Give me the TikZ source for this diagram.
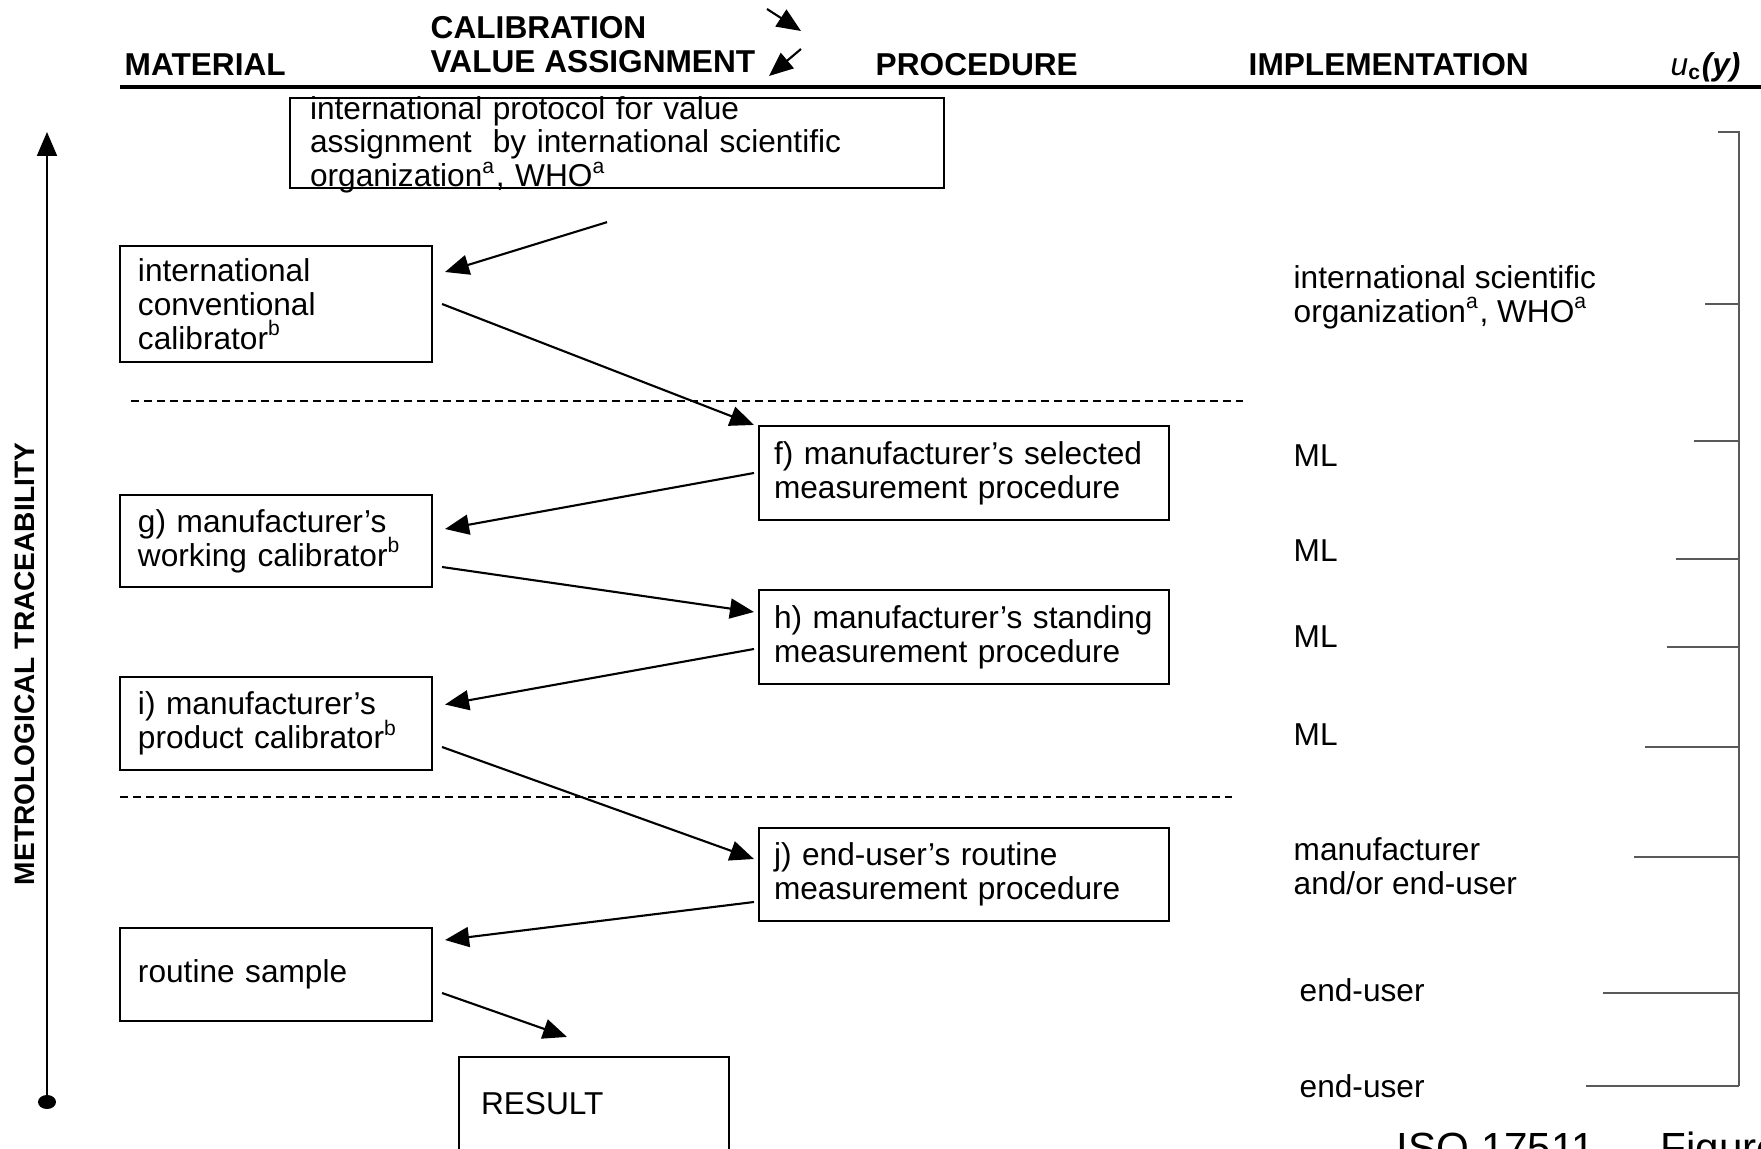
\documentclass[tikz,border=0pt]{standalone}
\usepackage{fontspec}
\setmainfont{Liberation Sans}
\usetikzlibrary{arrows.meta}

\newcommand{\fnmark}[1]{\smash{\textsuperscript{#1}}}

\begin{document}
\begin{tikzpicture}[
    box/.style={draw, line width=0.6pt, align=left, font=\fontsize{9}{9.6}\selectfont},
    matbox/.style={box, text width=2.76cm, inner xsep=0.18cm},
    procbox/.style={box, text width=3.8cm, inner xsep=0.15cm, minimum height=0.94cm},
    head/.style={anchor=base west, inner sep=0pt, font=\fontsize{9}{10}\selectfont\bfseries},
    impl/.style={anchor=west, align=left, inner sep=0pt, font=\fontsize{9}{9.6}\selectfont},
    arr/.style={line width=0.6pt, -{Triangle[length=0.24cm, width=0.2cm]}},
    bracket/.style={black!65, line width=0.8pt}
]
    % CLIP EVERYTHING
    \useasboundingbox (0,0) rectangle (17.61,11.48);
    \clip (0,0) rectangle (17.61,11.48);

    % HEADER
    \node[head] (material) at (1.24,10.72) {MATERIAL};
    \node[head] (calib) at (4.30,11.09) {CALIBRATION};
    \node[head] (valass) at (4.30,10.75) {VALUE ASSIGNMENT};
    \node[head] (procedure) at (8.75,10.72) {PROCEDURE};
    \node[head] (implement) at (12.48,10.72) {IMPLEMENTATION};
    \node[head] (uncert) at (16.70,10.72) {\textnormal{\itshape u}\textsubscript{c}\textit{(y)}};
    \draw[line width=1.1pt] (1.20,10.61) -- (17.61,10.61);
    \coordinate (down1) at (7.67,11.39);
    \coordinate (down2) at (8.01,11.17);
    \coordinate (up1) at (8.01,10.99);
    \coordinate (up2) at (7.69,10.72);
    \draw[arr] (down1) -- (down2);
    \draw[arr] (up1) -- (up2);

    % TRACEABILITY AXIS
    \draw[arr] (0.47,0.46) -- (0.47,10.16);
    \fill (0.47,0.46) ellipse (0.09 and 0.07);
    \node[rotate=90, font=\fontsize{8}{9}\selectfont\bfseries] (metro) at (0.25,4.84) {METROLOGICAL TRACEABILITY};

    % BOXES
    \node[box, anchor=north west, text width=6.14cm, inner xsep=0.2cm, inner ysep=-1.45pt] (proto) at (2.89,10.51)
        {\rule{0pt}{7.45pt}international protocol for value\\assignment\ \ by international scientific\\organization\fnmark{a}, WHO\fnmark{a}};
    \node[matbox, minimum height=1.16cm] (conv) at (2.76,8.44) {international\\conventional\\calibrator\fnmark{b}};
    \node[matbox, minimum height=0.92cm] (workcal) at (2.76,6.07) {g) manufacturer's\\working calibrator\fnmark{b}};
    \node[matbox, minimum height=0.93cm] (prodcal) at (2.76,4.245) {i) manufacturer's\\product calibrator\fnmark{b}};
    \node[matbox, minimum height=0.93cm] (sample) at (2.76,1.735) {routine sample};
    \node[procbox] (selproc) at (9.64,6.75) {f) manufacturer's selected\\measurement procedure};
    \node[procbox] (standproc) at (9.64,5.11) {h) manufacturer's standing\\measurement procedure};
    \node[procbox, minimum height=0.93cm] (routproc) at (9.64,2.735) {j) end-user's routine\\measurement procedure};
    \node[box, text width=2.26cm, inner xsep=0.22cm, minimum height=0.94cm] (result) at (5.94,0.44) {RESULT};

    % DASHED LEVELS
    \draw[dash pattern=on 2.3pt off 1.4pt, line width=0.6pt] (1.31,7.47) -- (12.43,7.47);
    \draw[dash pattern=on 2.3pt off 1.4pt, line width=0.6pt] (1.20,3.51) -- (12.32,3.51);

    % ARROWS
    \draw[arr] ([shift={(-0.1,-0.33)}]proto.south) -- ([shift={(0.12,0.32)}]conv.east);
    \draw[arr] ([xshift=0.09cm]conv.east) -- ([xshift=-0.04cm]selproc.north west);
    \draw[arr] ([xshift=-0.04cm]selproc.west) -- ([shift={(0.12,0.12)}]workcal.east);
    \draw[arr] ([shift={(0.09,-0.26)}]workcal.east) -- ([shift={(-0.04,0.25)}]standproc.west);
    \draw[arr] ([shift={(-0.04,-0.12)}]standproc.west) -- ([shift={(0.12,0.19)}]prodcal.east);
    \draw[arr] ([shift={(0.09,-0.235)}]prodcal.east) -- ([shift={(-0.04,0.155)}]routproc.west);
    \draw[arr] ([shift={(-0.04,-0.275)}]routproc.west) -- ([shift={(0.12,0.345)}]sample.east);
    \draw[arr] ([shift={(0.09,-0.185)}]sample.east) -- ([shift={(-0.27,0.19)}]result.north);

    % IMPLEMENTATION
    \node[impl] (intorg) at (12.93,8.51) {international scientific\\organization\fnmark{a}, WHO\fnmark{a}};
    \foreach \y [count=\k] in {6.92,5.97,5.11,4.13} {
    \node[impl] (ml\k) at (12.93,\y) {ML};
    }
    \node[impl] (manuf) at (12.93,2.82) {manufacturer\\and/or end-user};
    \node[impl] (enduser1) at (12.99,1.58) {end-user};
    \node[impl] (enduser2) at (12.99,0.62) {end-user};

    % UNCERTAINTY BRACKET
    \draw[bracket] (17.18,10.16) -- (17.39,10.16) -- (17.39,0.62);
    \foreach \y/\x in {8.44/17.05, 7.07/16.94, 5.89/16.76, 5.01/16.67, 4.01/16.45, 2.91/16.34, 1.55/16.03, 0.62/15.86} {
    \draw[bracket] (\x,\y) -- (17.39,\y);
    }

    % FOOTER
    \node[anchor=base west, inner sep=0pt, font=\fontsize{12}{14}\selectfont] (footer) at (13.96,-0.14) {ISO 17511\enspace–\enspace Figure};

\end{tikzpicture}
\end{document}
